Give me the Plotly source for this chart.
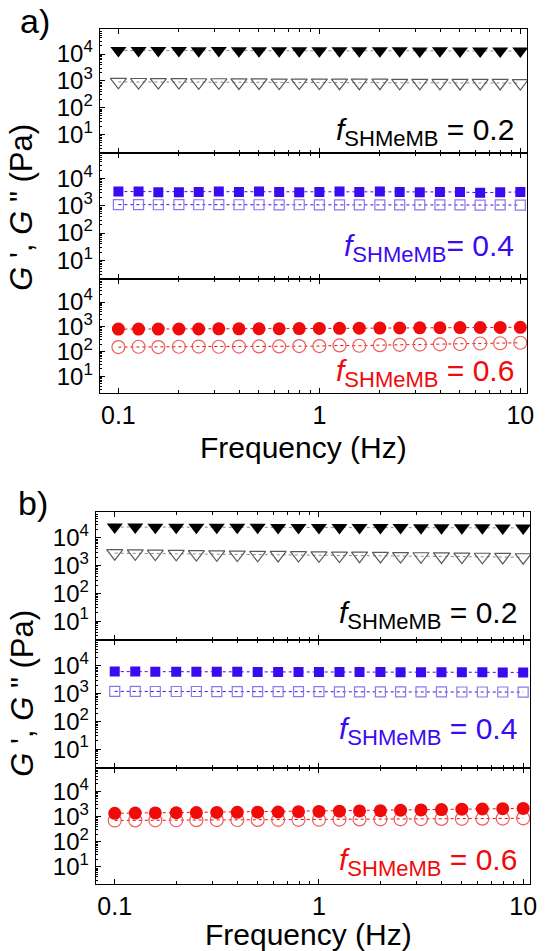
import plotly.graph_objects as go

W, H = 546, 951
FONT = "Liberation Sans, Arial, Helvetica, sans-serif"

# Frequency sweep (Hz)
freq = [0.1, 0.126, 0.158, 0.2, 0.251, 0.316, 0.398, 0.501, 0.631, 0.794,
        1.0, 1.26, 1.58, 2.0, 2.51, 3.16, 3.98, 5.01, 6.31, 7.94, 10.0]

# Panel a) storage (G') and loss (G'') moduli, Pa
a02_gp = [13500, 13400, 13500, 13400, 13300, 13400, 13300, 13300, 13200, 13300, 13200,
          13200, 13100, 13200, 13100, 13000, 13100, 13000, 12900, 13000, 12900]
a02_gpp = [920, 910, 900, 900, 890, 890, 880, 880, 870, 870, 870,
           860, 860, 860, 850, 850, 850, 840, 840, 840, 830]
a04_gp = [3300, 3300, 3100, 3100, 3200, 3300, 3200, 3300, 3200, 3100, 3200,
          3300, 3200, 3300, 3200, 3100, 3200, 3200, 3000, 3100, 3200]
a04_gpp = [1100, 1100, 1090, 1100, 1090, 1100, 1090, 1090, 1080, 1090, 1080,
           1080, 1080, 1070, 1080, 1070, 1070, 1070, 1060, 1070, 1060]
a06_gp = [800, 800, 800, 810, 810, 820, 820, 830, 830, 840, 850,
          860, 870, 880, 890, 900, 910, 920, 930, 940, 950]
a06_gpp = [150, 155, 150, 155, 158, 155, 158, 160, 160, 165, 165,
           175, 170, 180, 185, 190, 195, 200, 210, 215, 225]

# Panel b) storage (G') and loss (G'') moduli, Pa
b02_gp = [24500, 24300, 24200, 24100, 24000, 24000, 23900, 23800, 23700, 23700, 23600,
          23500, 23400, 23300, 23300, 23200, 23100, 23000, 23000, 22800, 22700]
b02_gpp = [2800, 2750, 2700, 2650, 2600, 2550, 2500, 2450, 2420, 2380, 2350,
           2300, 2270, 2230, 2200, 2170, 2140, 2100, 2080, 2050, 2000]
b04_gp = [6200, 6200, 6150, 6150, 6100, 6100, 6100, 6050, 6050, 6000, 6000,
          6000, 5950, 5950, 5900, 5900, 5900, 5850, 5850, 5800, 5800]
b04_gpp = [1200, 1200, 1190, 1190, 1190, 1180, 1180, 1180, 1170, 1170, 1170,
           1160, 1160, 1160, 1150, 1150, 1150, 1140, 1140, 1140, 1130]
b06_gp = [1350, 1380, 1400, 1420, 1440, 1460, 1480, 1500, 1520, 1560, 1600,
          1640, 1680, 1720, 1780, 1840, 1900, 1960, 2000, 2050, 2100]
b06_gpp = [700, 705, 710, 715, 720, 725, 730, 735, 740, 745, 750,
           760, 770, 775, 785, 795, 805, 815, 825, 835, 850]

compositions = ["0.2", "0.4", "0.6"]
x_ticks = [0.1, 1, 10]
x_ticktext = ["0.1", "1", "10"]
y_ticks = [10, 100, 1000, 10000]
y_ticktext = ["10<sup>1</sup>", "10<sup>2</sup>", "10<sup>3</sup>", "10<sup>4</sup>"]

BLACK, GREY = "#000000", "#5a5a5a"
BLUE, BLUE_L = "#3a0af0", "#8a78e6"
RED, RED_L = "#f00a0a", "#ee5a5a"

styles = [
    dict(sym="triangle-down", size=14, fill=BLACK, edge=GREY, line="#8a8a8a", text=BLACK),
    dict(sym="square", size=10, fill=BLUE, edge=BLUE_L, line=BLUE, text=BLUE),
    dict(sym="circle", size=13, fill=RED, edge=RED_L, line=RED, text=RED),
]

panels = [
    dict(label="a)", x=(101, 534), rows=[(29, 153), (153, 279), (279, 393)],
         data=[(a02_gp, a02_gpp), (a04_gp, a04_gpp), (a06_gp, a06_gpp)],
         lab_y=21, lab_x=35, freq_y=448, freq_x=307, gy=207, eq_dy=[21, 31, 20]),
    dict(label="b)", x=(97, 537), rows=[(512, 640), (640, 768), (768, 884)],
         data=[(b02_gp, b02_gpp), (b04_gp, b04_gpp), (b06_gp, b06_gpp)],
         lab_y=503, lab_x=33, freq_y=934, freq_x=312, gy=693, eq_dy=[25, 37, 22]),
]

def px_x(p):
    return p / W

def px_y(p):
    return 1 - p / H

minor_x = [m * 10 ** e for e in (-1, 0) for m in range(2, 10)]
minor_y = [m * 10 ** e for e in range(0, 5) for m in range(2, 10)]

fig = go.Figure()
layout = dict(width=W, height=H, autosize=False, margin=dict(l=0, r=0, t=0, b=0),
              paper_bgcolor="white", plot_bgcolor="white", showlegend=False,
              font=dict(family=FONT, color="black"))
annotations = []
n = 0
for panel in panels:
    for r, ((top, bot), (gp, gpp)) in enumerate(zip(panel["rows"], panel["data"])):
        n += 1
        st = styles[r]
        xa, ya = f"x{n}", f"y{n}"
        # loss modulus G'' (open)
        fig.add_trace(go.Scatter(
            x=freq, y=gpp, xaxis=xa, yaxis=ya, mode="lines+markers",
            line=dict(color=st["line"], width=1, dash="dot"),
            marker=dict(symbol=st["sym"] + "-open", size=st["size"],
                        color=st["edge"], line=dict(width=1.2, color=st["edge"]))))
        # storage modulus G' (filled)
        fig.add_trace(go.Scatter(
            x=freq, y=gp, xaxis=xa, yaxis=ya, mode="lines+markers",
            line=dict(color=st["line"], width=1, dash="dot"),
            marker=dict(symbol=st["sym"], size=st["size"], color=st["fill"],
                        line=dict(width=0))))
        last = r == 2
        layout[f"xaxis{n}"] = dict(
            type="log", range=[-1.093, 1.034], anchor=ya,
            domain=[px_x(panel["x"][0]), px_x(panel["x"][1])],
            showgrid=False, zeroline=False, showline=True, linecolor="black", linewidth=1,
            mirror="ticks", ticks="inside", ticklen=5, tickwidth=1, tickcolor="black",
            tickmode="array", tickvals=x_ticks, ticktext=x_ticktext,
            showticklabels=last, tickfont=dict(size=25, family=FONT, color="black"),
            ticklabelstandoff=0,
            minor=dict(ticks="inside", ticklen=3, tickwidth=1, tickcolor="black",
                       tickmode="array", tickvals=minor_x, showgrid=False))
        layout[f"yaxis{n}"] = dict(
            type="log", range=[0.32, 4.93], anchor=xa,
            domain=[px_y(bot), px_y(top)],
            showgrid=False, zeroline=False, showline=True, linecolor="black", linewidth=1.2,
            mirror=True, ticks="inside", ticklen=5, tickwidth=1, tickcolor="black",
            tickmode="array", tickvals=y_ticks, ticktext=y_ticktext,
            tickfont=dict(size=24, family=FONT, color="black"), ticklabelstandoff=1,
            minor=dict(ticks="inside", ticklen=2.5, tickwidth=1, tickcolor="black",
                       tickmode="array", tickvals=minor_y, showgrid=False))
        sep = "" if (panel["label"] == "a)" and r == 1) else " "
        annotations.append(dict(
            xref="paper", yref="paper", x=px_x(panel["x"][1] - 11),
            y=px_y(bot - panel["eq_dy"][r]), xanchor="right", yanchor="middle",
            text=(f"<i>f</i><sub><span style='font-size:22px'>SHMeMB</span></sub>"
                  f"{sep}= {compositions[r]}"),
            showarrow=False, font=dict(size=30, family=FONT, color=st["text"])))
    annotations.append(dict(
        xref="paper", yref="paper", x=px_x(panel["lab_x"]), y=px_y(panel["lab_y"]),
        xanchor="center", yanchor="middle", text=panel["label"], showarrow=False,
        font=dict(size=34, family=FONT, color="black")))
    annotations.append(dict(
        xref="paper", yref="paper", x=px_x(panel["freq_x"]), y=px_y(panel["freq_y"]),
        xanchor="center", yanchor="middle", text="Frequency (Hz)", showarrow=False,
        font=dict(size=30, family=FONT, color="black")))
    annotations.append(dict(
        xref="paper", yref="paper", x=px_x(22), y=px_y(panel["gy"]),
        xanchor="center", yanchor="middle", textangle=-90,
        text="<i>G</i> ', <i>G</i> \" (Pa)", showarrow=False,
        font=dict(size=31, family=FONT, color="black")))

layout["annotations"] = annotations
fig.update_layout(**layout)
fig.write_html("out.html")
